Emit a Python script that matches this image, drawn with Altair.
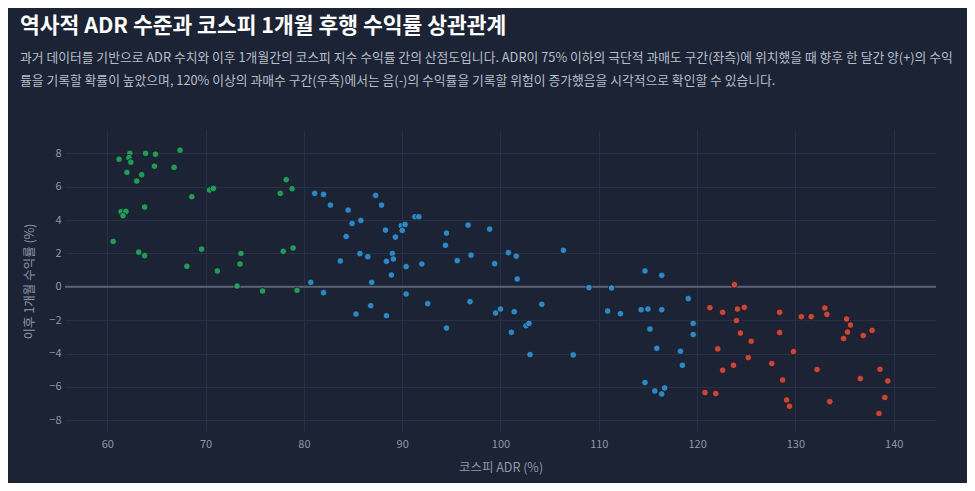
import altair as alt
import pandas as pd

# ADR (%) and next-month KOSPI return (%)
low_adr = [61.2, 62.3, 62.2, 62.4, 63.9, 64.9, 64.8, 66.8, 67.4, 62.0, 63.5, 63.0,
           68.6, 70.4, 70.8, 61.4, 61.9, 61.6, 63.8, 60.6, 63.2, 63.8, 69.6, 68.1,
           73.6, 73.5, 71.2, 73.2, 75.8, 77.6, 78.2, 78.8, 77.9, 78.9, 79.3]
low_ret = [7.65, 8.0, 7.74, 7.47, 8.0, 7.95, 7.23, 7.16, 8.19, 6.86, 6.72, 6.34,
           5.40, 5.80, 5.90, 4.50, 4.52, 4.26, 4.78, 2.72, 2.08, 1.87, 2.26, 1.23,
           2.00, 1.37, 0.95, 0.05, -0.25, 5.60, 6.42, 5.88, 2.13, 2.33, -0.21]

mid_adr = [81.1, 82.0, 82.7, 84.5, 87.3, 87.9, 84.9, 85.8, 84.3, 88.3, 89.9, 90.3,
           90.0, 89.3, 91.3, 91.7, 83.7, 85.7, 86.5, 89.0, 88.4, 89.1, 88.9, 90.4,
           92.0, 80.7, 86.9, 82.0, 90.4, 86.8, 85.3, 88.4, 92.6, 94.5, 94.4, 96.7,
           98.9, 95.6, 97.0, 99.4, 100.8, 101.6, 101.7, 106.4, 109.0, 111.3, 110.9,
           96.9, 94.5, 99.5, 100.0, 101.4, 104.2, 101.1, 102.6, 102.9, 103.0, 107.4,
           114.7, 116.4, 112.2, 114.3, 115.0, 116.4, 119.1, 115.2, 119.6, 119.6,
           115.9, 118.3, 118.5, 114.7, 115.7, 116.4, 116.7]
mid_ret = [5.60, 5.54, 4.90, 4.60, 5.48, 4.90, 3.80, 3.98, 3.02, 3.40, 3.66, 3.74,
           3.38, 2.98, 4.20, 4.20, 1.55, 1.99, 1.81, 2.00, 1.53, 1.67, 0.71, 1.21,
           1.37, 0.27, 0.27, -0.35, -0.43, -1.13, -1.63, -1.73, -1.01, 3.22, 2.49, 3.70,
           3.46, 1.57, 1.90, 1.39, 2.05, 1.84, 0.47, 2.19, -0.05, -0.07, -1.45,
           -0.89, -2.47, -1.57, -1.33, -1.49, -1.05, -2.72, -2.33, -2.19, -4.06, -4.08,
           0.95, 0.69, -1.61, -1.37, -1.33, -1.37, -0.71, -2.53, -2.19, -2.86,
           -3.68, -3.86, -4.70, -5.74, -6.24, -6.42, -6.06]

high_adr = [123.8, 121.3, 122.6, 124.1, 124.8, 124.0, 124.4, 125.5, 122.1, 125.2,
            123.7, 122.6, 120.8, 121.9, 128.4, 128.4, 130.6, 131.6, 129.8, 127.6,
            128.7, 129.1, 129.4, 132.2, 133.0, 133.2, 133.5, 135.2, 135.6, 135.3,
            134.9, 136.9, 137.8, 136.6, 138.6, 139.4, 139.1, 138.5]
high_ret = [0.13, -1.25, -1.53, -1.33, -1.23, -2.02, -2.77, -3.26, -3.72, -4.24,
            -4.70, -5.00, -6.34, -6.40, -1.53, -2.74, -1.79, -1.79, -3.88, -4.60,
            -5.58, -6.78, -7.16, -4.96, -1.27, -1.65, -6.88, -1.93, -2.29, -2.71,
            -3.10, -2.92, -2.61, -5.50, -4.94, -5.64, -6.63, -7.59]

zones = ["과매도", "중립", "과매수"]
zone_colors = ["#27ae60", "#3498db", "#e74c3c"]
x_ticks = [60, 70, 80, 90, 100, 110, 120, 130, 140]
y_ticks = [-8, -6, -4, -2, 0, 2, 4, 6, 8]

FONT = "Noto Sans CJK KR"
BG = "#1b2334"

frames = []
for zone, xs, ys in zip(zones, [low_adr, mid_adr, high_adr], [low_ret, mid_ret, high_ret]):
    frames.append(pd.DataFrame({"adr": xs, "ret": ys, "zone": zone}))
df = pd.concat(frames, ignore_index=True)

x_enc = alt.X("adr:Q", title="코스피 ADR (%)",
              scale=alt.Scale(domain=[55.7, 144.3], nice=False, zero=False),
              axis=alt.Axis(values=x_ticks, labelPadding=6, titlePadding=12))
y_enc = alt.Y("ret:Q", title="이후 1개월 수익률 (%)",
              scale=alt.Scale(domain=[-8.7, 9.4], nice=False, zero=False),
              axis=alt.Axis(values=y_ticks, labelPadding=4, titlePadding=12,
                            labelOverlap=False))

points = alt.Chart(df).mark_circle(size=44, opacity=0.85, stroke="#10151f",
                                   strokeWidth=0.8).encode(
    x=x_enc,
    y=y_enc,
    color=alt.Color("zone:N", scale=alt.Scale(domain=zones, range=zone_colors),
                    legend=None),
    tooltip=["adr", "ret", "zone"]
)

# horizontal reference line at 0 %
zero_line = alt.Chart(pd.DataFrame({"ret": [0]})).mark_rule(
    color="#596375", strokeWidth=2
).encode(y=y_enc)

chart = alt.layer(zero_line, points).properties(
    width=871,
    height=302,
    autosize=alt.AutoSizeParams(type="none"),
    padding={"left": 57, "top": 122, "right": 31, "bottom": 51},
    background=BG,
    title=alt.TitleParams(
        "역사적 ADR 수준과 코스피 1개월 후행 수익률 상관관계",
        subtitle=[
            "과거 데이터를 기반으로 ADR 수치와 이후 1개월간의 코스피 지수 수익률 간의 산점도입니다. ADR이 75% 이하의 극단적 과매도 구간(좌측)에 위치했을 때 향후 한 달간 양(+)의 수익",
            "률을 기록할 확률이 높았으며, 120% 이상의 과매수 구간(우측)에서는 음(-)의 수익률을 기록할 위험이 증가했음을 시각적으로 확인할 수 있습니다.",
        ],
        anchor="start",
        frame="group",
        dx=-45,
        offset=42,
        font=FONT,
        fontSize=21.5,
        fontWeight="bold",
        color="#ffffff",
        subtitleFont=FONT,
        subtitleFontSize=12.8,
        subtitleColor="#b7bfcb",
        subtitleLineHeight=23,
        subtitlePadding=15,
    ),
).configure_view(
    stroke=None
).configure_axis(
    labelFont=FONT,
    titleFont=FONT,
    labelColor="#8f98a8",
    titleColor="#8f98a8",
    labelFontSize=11,
    titleFontSize=12.5,
    titleFontWeight="normal",
    gridColor="#283143",
    gridWidth=1,
    domain=False,
    ticks=False,
)

chart.save("out.html", embed_options={"renderer": "svg", "actions": False})
